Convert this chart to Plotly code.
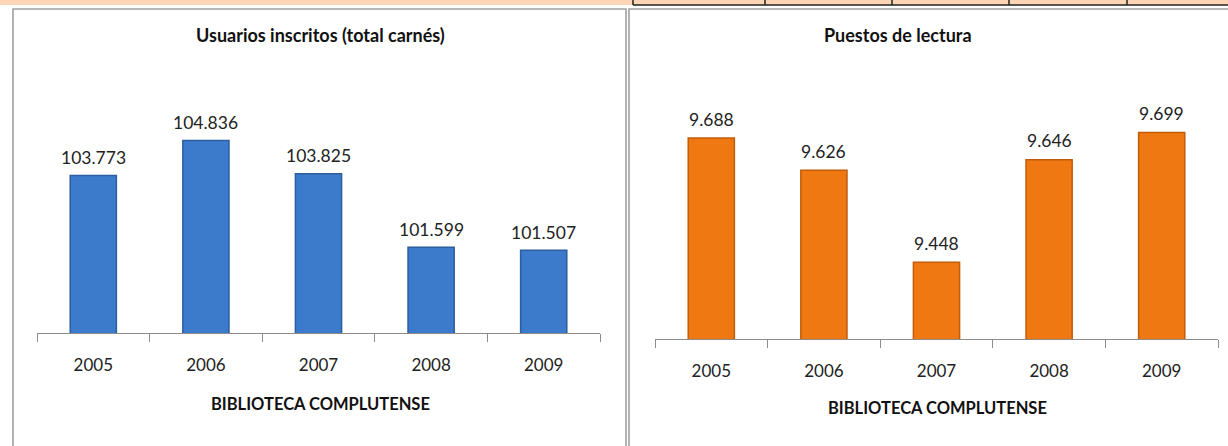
import plotly.graph_objects as go

# ---- data ----
years = ["2005", "2006", "2007", "2008", "2009"]
usuarios = [103773, 104836, 103825, 101599, 101507]
puestos = [9688, 9626, 9448, 9646, 9699]
title_left = "Usuarios inscritos (total carnés)"
title_right = "Puestos de lectura"
axis_title = "BIBLIOTECA COMPLUTENSE"

W, H = 1228, 446
FONT = "Lato, 'Open Sans', sans-serif"


def px(x):
    return x / W


def py(y):
    return 1 - y / H


fig = go.Figure()

fig.add_trace(go.Bar(
    x=years, y=usuarios, xaxis="x", yaxis="y", width=0.41,
    marker=dict(color="#3C7BCC", line=dict(color="#2C5E9F", width=1.5)),
    hoverinfo="x+y", showlegend=False,
))
fig.add_trace(go.Bar(
    x=years, y=puestos, xaxis="x2", yaxis="y2", width=0.41,
    marker=dict(color="#F07812", line=dict(color="#C25C08", width=1.5)),
    hoverinfo="x+y", showlegend=False,
))

annotations = []
for i, v in enumerate(usuarios):
    annotations.append(dict(x=i, y=v, xref="x", yref="y", text=f"{v:,}".replace(",", "."),
                            xanchor="center", yanchor="middle",
                            showarrow=False, yshift=18, font=dict(family=FONT, size=17.5, color="#222")))
for i, v in enumerate(puestos):
    annotations.append(dict(x=i, y=v, xref="x2", yref="y2", text=f"{v:,}".replace(",", "."),
                            xanchor="center", yanchor="middle",
                            showarrow=False, yshift=19, font=dict(family=FONT, size=17.5, color="#222")))

# titles
annotations += [
    dict(x=px(320), y=py(35), xref="paper", yref="paper", text=f"<b>{title_left}</b>",
         xanchor="center", yanchor="middle",
         showarrow=False, font=dict(family=FONT, size=18, color="#111")),
    dict(x=px(898), y=py(35), xref="paper", yref="paper", text=f"<b>{title_right}</b>",
         xanchor="center", yanchor="middle",
         showarrow=False, font=dict(family=FONT, size=18, color="#111")),
    dict(x=px(320), y=py(404), xref="paper", yref="paper", text=f"<b>{axis_title}</b>",
         xanchor="center", yanchor="middle",
         showarrow=False, font=dict(family=FONT, size=16.5, color="#111")),
    dict(x=px(937), y=py(408), xref="paper", yref="paper", text=f"<b>{axis_title}</b>",
         xanchor="center", yanchor="middle",
         showarrow=False, font=dict(family=FONT, size=16.5, color="#111")),
]

shapes = [
    # peach strip at top
    dict(type="rect", xref="paper", yref="paper", x0=0, x1=1, y0=py(5), y1=1,
         fillcolor="#FBD5B5", line=dict(width=0), layer="below"),
    dict(type="line", xref="paper", yref="paper", x0=px(633), x1=1, y0=py(5), y1=py(5),
         line=dict(color="#222", width=1.5)),
    # panel frames
    dict(type="rect", xref="paper", yref="paper", x0=px(13), x1=px(626), y0=-0.05, y1=py(9),
         line=dict(color="#A0A0A0", width=1.6), fillcolor="rgba(0,0,0,0)"),
    dict(type="rect", xref="paper", yref="paper", x0=px(629), x1=1.05, y0=-0.05, y1=py(9),
         line=dict(color="#A0A0A0", width=1.6), fillcolor="rgba(0,0,0,0)"),
]
for xv in [633, 765, 892, 1009, 1127]:
    shapes.append(dict(type="line", xref="paper", yref="paper", x0=px(xv), x1=px(xv), y0=py(5), y1=1,
                       line=dict(color="#222", width=1.5)))

xaxis_common = dict(type="category", tickson="boundaries", ticks="outside", ticklen=8,
                    tickcolor="#8C8C8C", showline=True, linecolor="#8C8C8C", linewidth=1,
                    showgrid=False, tickfont=dict(family=FONT, size=17, color="#222"),
                    ticklabelstandoff=17, tickangle=0, range=[-0.5, 4.5], fixedrange=True)
yaxis_common = dict(visible=False, showgrid=False, fixedrange=True)

fig.update_layout(
    width=W, height=H,
    margin=dict(l=0, r=0, t=0, b=0),
    paper_bgcolor="white", plot_bgcolor="rgba(0,0,0,0)",
    bargap=0.59,
    xaxis=dict(domain=[px(37), px(600)], anchor="y", **xaxis_common),
    yaxis=dict(domain=[py(333), py(102)], range=[99000, 106000], anchor="x", **yaxis_common),
    xaxis2=dict(domain=[px(655), px(1218)], anchor="y2", **xaxis_common),
    yaxis2=dict(domain=[py(339), py(106)], range=[9300, 9750], anchor="x2", **yaxis_common),
    annotations=annotations,
    shapes=shapes,
    font=dict(family=FONT),
)

fig.write_html("out.html", config={"displayModeBar": False},
               post_script="document.body.style.margin='0';document.body.style.overflow='hidden';")
